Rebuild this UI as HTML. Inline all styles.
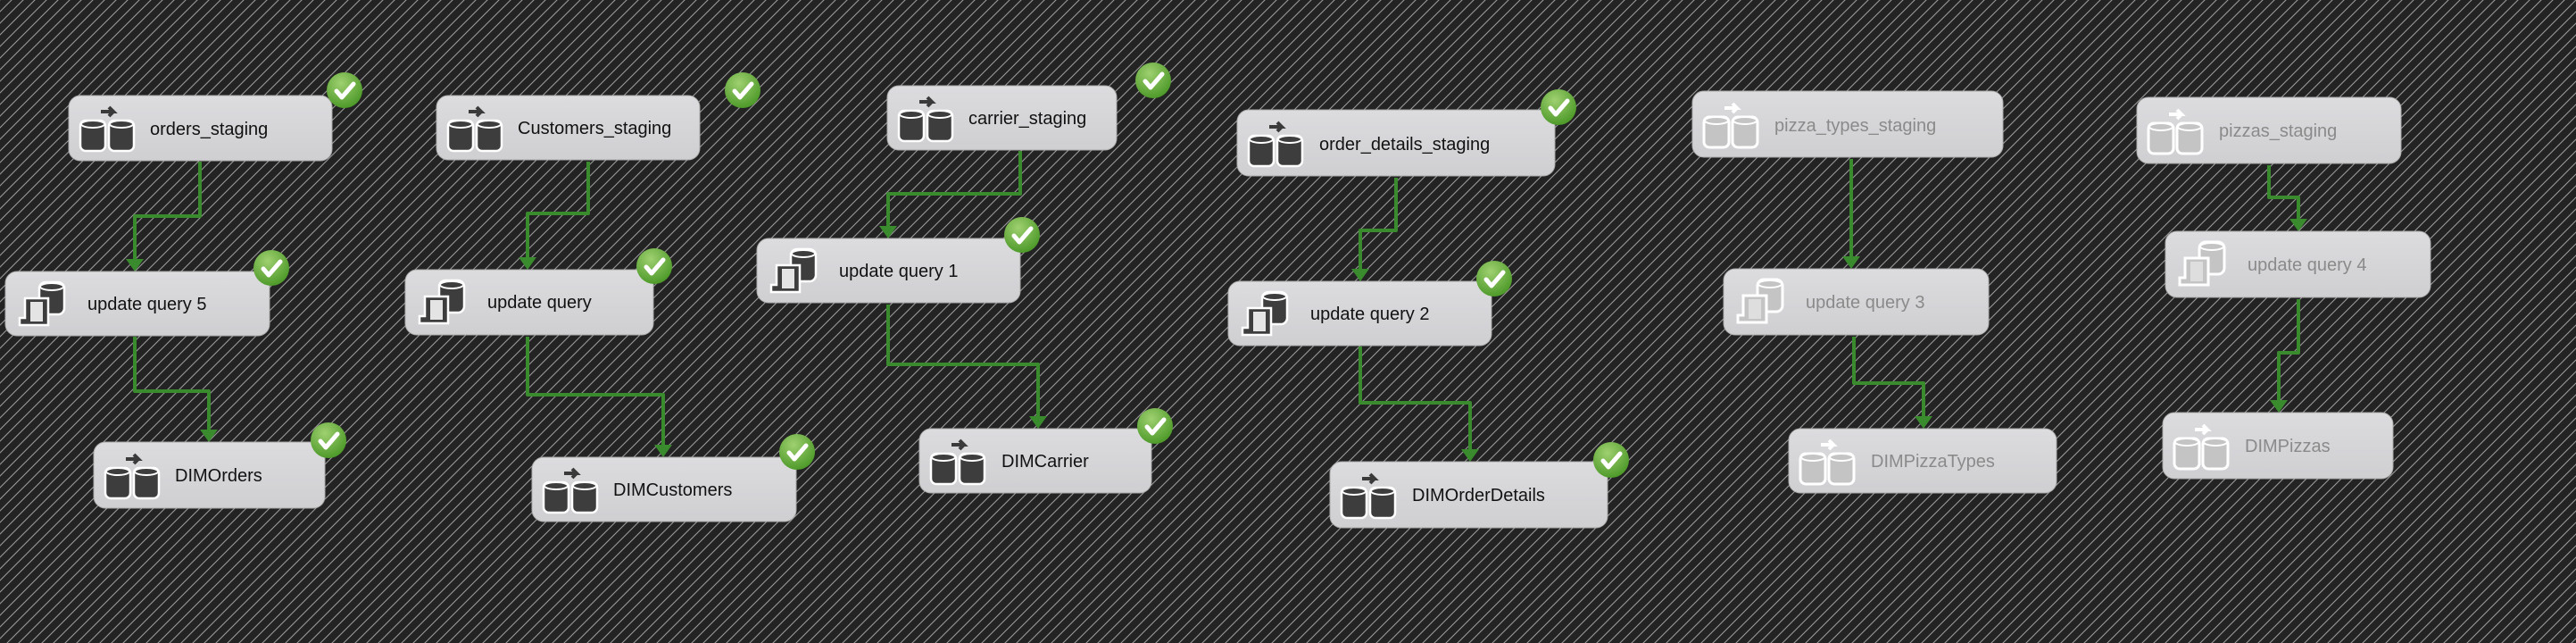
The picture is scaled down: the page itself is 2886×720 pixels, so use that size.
<!DOCTYPE html>
<html><head><meta charset="utf-8"><style>
html,body{margin:0;padding:0;width:2886px;height:720px;overflow:hidden;background:#222;}
svg{display:block}
text{font-family:"Liberation Sans",sans-serif;font-size:20px;}
</style></head><body>
<svg width="2886" height="720" viewBox="0 0 2886 720" xmlns="http://www.w3.org/2000/svg">
<defs>
<pattern id="hatch" width="13" height="13" patternUnits="userSpaceOnUse">
<rect width="13" height="13" fill="#232323"/>
<path d="M-1,14 L14,-1 M-4,4 L4,-4 M9,17 L17,9" stroke="#9a9a9a" stroke-width="1.1"/>
</pattern>
<linearGradient id="ng" x1="0" y1="0" x2="0" y2="1">
<stop offset="0" stop-color="#dcdcdf"/><stop offset="1" stop-color="#cfcfd2"/>
</linearGradient>
<radialGradient id="cg" cx="0.4" cy="0.3" r="0.7">
<stop offset="0" stop-color="#9fd070"/><stop offset="1" stop-color="#4e9a2a"/>
</radialGradient>
<g id="dft">
<path d="M26,2 h14 l-5,-5 M40,2 l-5,5" transform="translate(0,6)" stroke="#3a3a3a" stroke-width="4" fill="none"/>
<rect x="3" y="18" width="28" height="34" rx="6" fill="#3d3d3d" stroke="#fff" stroke-width="2.5"/>
<ellipse cx="17" cy="22" rx="13" ry="4" fill="#3d3d3d" stroke="#fff" stroke-width="2"/>
<rect x="35" y="18" width="28" height="34" rx="6" fill="#3d3d3d" stroke="#fff" stroke-width="2.5"/>
<ellipse cx="49" cy="22" rx="13" ry="4" fill="#3d3d3d" stroke="#fff" stroke-width="2"/>
</g>
<g id="dftd">
<path d="M26,2 h14 l-5,-5 M40,2 l-5,5" transform="translate(0,6)" stroke="#fff" stroke-width="4" fill="none"/>
<rect x="3" y="18" width="28" height="34" rx="6" fill="#c4c4c4" stroke="#fff" stroke-width="3"/>
<ellipse cx="17" cy="22" rx="13" ry="4" fill="#c4c4c4" stroke="#fff" stroke-width="2"/>
<rect x="35" y="18" width="28" height="34" rx="6" fill="#c4c4c4" stroke="#fff" stroke-width="3"/>
<ellipse cx="49" cy="22" rx="13" ry="4" fill="#c4c4c4" stroke="#fff" stroke-width="2"/>
</g>
<g id="sql">
<rect x="30" y="2" width="28" height="36" rx="7" fill="#3d3d3d" stroke="#fff" stroke-width="2.5"/>
<ellipse cx="44" cy="7" rx="13" ry="4" fill="#3d3d3d" stroke="#fff" stroke-width="2"/>
<path d="M14,20 h26 v30 h-32 v-8 h6 z" fill="#3d3d3d" stroke="#fff" stroke-width="2.5"/>
<rect x="20" y="24" width="14" height="22" fill="#e4e4e4"/>
</g>
<g id="sqld">
<rect x="30" y="2" width="28" height="36" rx="7" fill="#c4c4c4" stroke="#fff" stroke-width="3"/>
<ellipse cx="44" cy="7" rx="13" ry="4" fill="#c4c4c4" stroke="#fff" stroke-width="2"/>
<path d="M14,20 h26 v30 h-32 v-8 h6 z" fill="#c4c4c4" stroke="#fff" stroke-width="3"/>
<rect x="20" y="24" width="14" height="22" fill="#dedede"/>
</g>
<g id="ok">
<circle r="20" fill="url(#cg)"/>
<path d="M-9,1 L-3,8 L10,-7" stroke="#fff" stroke-width="5" fill="none" stroke-linecap="round" stroke-linejoin="round"/>
</g>
<marker id="ah" markerWidth="8" markerHeight="8" refX="4" refY="7" orient="auto" markerUnits="userSpaceOnUse" viewBox="0 0 8 8">
<path d="M0,0 L8,0 L4,8 z" fill="#3a8a2e"/>
</marker>
</defs>
<rect width="2886" height="720" fill="url(#hatch)"/>

<g fill="none" stroke="#3a8a2e" stroke-width="4" stroke-linejoin="round">
<path d="M224,181 V242 H151 V292"/>
<path d="M151,377 V438 H234 V483"/>
<path d="M659,181 V239 H591 V290"/>
<path d="M591,377 V442 H743 V500"/>
<path d="M1143,169 V217 H995 V255"/>
<path d="M995,341 V408 H1163 V468"/>
<path d="M1564,199 V258 H1524 V303"/>
<path d="M1524,388 V451 H1647 V505"/>
<path d="M2074,178 V289"/>
<path d="M2077,377 V429 H2155 V468"/>
<path d="M2542,185 V221 H2575 V247"/>
<path d="M2575,335 V395 H2553 V450"/>
</g>
<g fill="#3a8a2e">
<path d="M141,290 h20 l-10,14 z"/>
<path d="M224,481 h20 l-10,14 z"/>
<path d="M581,288 h20 l-10,14 z"/>
<path d="M733,498 h20 l-10,14 z"/>
<path d="M985,253 h20 l-10,14 z"/>
<path d="M1153,466 h20 l-10,14 z"/>
<path d="M1514,301 h20 l-10,14 z"/>
<path d="M1637,503 h20 l-10,14 z"/>
<path d="M2064,287 h20 l-10,14 z"/>
<path d="M2145,466 h20 l-10,14 z"/>
<path d="M2565,245 h20 l-10,14 z"/>
<path d="M2543,448 h20 l-10,14 z"/>
</g>

<g stroke="#aaa" stroke-width="1">
<rect x="77" y="107" width="295" height="73" rx="13" fill="url(#ng)"/>
<rect x="6" y="304" width="296" height="72" rx="13" fill="url(#ng)"/>
<rect x="105" y="495" width="259" height="74" rx="13" fill="url(#ng)"/>
<rect x="489" y="107" width="295" height="72" rx="13" fill="url(#ng)"/>
<rect x="454" y="302" width="278" height="73" rx="13" fill="url(#ng)"/>
<rect x="596" y="512" width="296" height="72" rx="13" fill="url(#ng)"/>
<rect x="994" y="96" width="257" height="72" rx="13" fill="url(#ng)"/>
<rect x="848" y="267" width="295" height="72" rx="13" fill="url(#ng)"/>
<rect x="1030" y="480" width="260" height="72" rx="13" fill="url(#ng)"/>
<rect x="1386" y="123" width="356" height="74" rx="13" fill="url(#ng)"/>
<rect x="1376" y="315" width="295" height="72" rx="13" fill="url(#ng)"/>
<rect x="1490" y="517" width="311" height="74" rx="13" fill="url(#ng)"/>
<rect x="1896" y="102" width="348" height="74" rx="13" fill="url(#ng)"/>
<rect x="1931" y="301" width="297" height="74" rx="13" fill="url(#ng)"/>
<rect x="2004" y="480" width="300" height="72" rx="13" fill="url(#ng)"/>
<rect x="2394" y="109" width="296" height="74" rx="13" fill="url(#ng)"/>
<rect x="2426" y="259" width="297" height="74" rx="13" fill="url(#ng)"/>
<rect x="2423" y="462" width="258" height="74" rx="13" fill="url(#ng)"/>
</g>

<use href="#dft" x="87" y="117"/>
<use href="#sql" x="14" y="314"/>
<use href="#dft" x="115" y="506"/>
<use href="#dft" x="499" y="117"/>
<use href="#sql" x="462" y="312"/>
<use href="#dft" x="606" y="522"/>
<use href="#dft" x="1004" y="106"/>
<use href="#sql" x="856" y="277"/>
<use href="#dft" x="1040" y="490"/>
<use href="#dft" x="1396" y="134"/>
<use href="#sql" x="1384" y="325"/>
<use href="#dft" x="1500" y="528"/>
<use href="#dftd" x="1906" y="113"/>
<use href="#sqld" x="1939" y="311"/>
<use href="#dftd" x="2014" y="490"/>
<use href="#dftd" x="2404" y="120"/>
<use href="#sqld" x="2434" y="269"/>
<use href="#dftd" x="2433" y="473"/>

<g fill="#111">
<text x="168" y="151">orders_staging</text>
<text x="98" y="347">update query 5</text>
<text x="196" y="539">DIMOrders</text>
<text x="580" y="150">Customers_staging</text>
<text x="546" y="345">update query</text>
<text x="687" y="555">DIMCustomers</text>
<text x="1085" y="139">carrier_staging</text>
<text x="940" y="310">update query 1</text>
<text x="1122" y="523">DIMCarrier</text>
<text x="1478" y="168">order_details_staging</text>
<text x="1468" y="358">update query 2</text>
<text x="1582" y="561">DIMOrderDetails</text>
</g>
<g fill="#8a8a8a">
<text x="1988" y="147">pizza_types_staging</text>
<text x="2023" y="345">update query 3</text>
<text x="2096" y="523">DIMPizzaTypes</text>
<text x="2486" y="153">pizzas_staging</text>
<text x="2518" y="303">update query 4</text>
<text x="2515" y="506">DIMPizzas</text>
</g>

<use href="#ok" x="386" y="101"/>
<use href="#ok" x="304" y="300"/>
<use href="#ok" x="368" y="493"/>
<use href="#ok" x="832" y="101"/>
<use href="#ok" x="733" y="298"/>
<use href="#ok" x="893" y="506"/>
<use href="#ok" x="1292" y="90"/>
<use href="#ok" x="1145" y="263"/>
<use href="#ok" x="1294" y="477"/>
<use href="#ok" x="1746" y="120"/>
<use href="#ok" x="1674" y="312"/>
<use href="#ok" x="1805" y="515"/>
</svg>
</body></html>
